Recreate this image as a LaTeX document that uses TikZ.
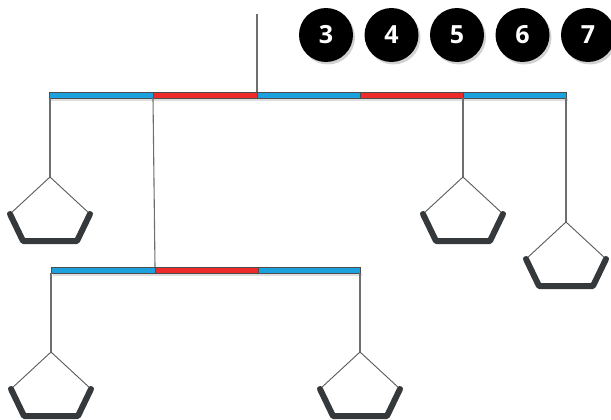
\documentclass[tikz,border=0pt]{standalone}
\usepackage{fontspec}
\setmainfont{Open Sans}
\definecolor{barblue}{HTML}{1BA1DD}
\definecolor{barred}{HTML}{EE2A2A}
\definecolor{panc}{HTML}{36393B}
\definecolor{strc}{HTML}{6E6E6E}
\begin{document}
\begin{tikzpicture}[x=1pt,y=-1pt,
  barseg/.style={draw=gray!60!black,line width=0.8pt},
  bshadow/.style={fill=gray!25,draw=none},
  stringl/.style={draw=strc,line width=1.1pt},
  thinside/.style={draw=gray!70!black,line width=0.9pt},
  thickside/.style={draw=panc,line width=6pt,line cap=round,line join=round},
  badge/.style={circle,fill=black,minimum size=54pt,inner sep=0pt,text=white,font=\bfseries\fontsize{25}{25}\selectfont},
  badgeshadow/.style={circle,fill=gray!35,minimum size=54pt,inner sep=0pt},
  pan/.pic={
    \draw[thinside] (-40,37) -- (0,0) -- (40,37);
    \draw[thickside] (-40,37) -- (-27,64) -- (27,64) -- (40,37);
  }]
\useasboundingbox (0,0) rectangle (611,420);
\clip (0,0) rectangle (611,420);
% badges
\foreach \n/\x in {3/326,4/391.5,5/457,6/522.5,7/588}{
  \node[badgeshadow] at (\x+2,35+2.5) {};
  \node[badge] (b\n) at (\x,35) {\n};
}
% top bar
\fill[bshadow] (51,98) rectangle (568,101);
\foreach \a/\b/\c in {49/153/barblue,153/257/barred,257/360/barblue,360/463/barred,463/566/barblue}{
  \draw[barseg,fill=\c] (\a,92) rectangle (\b,98);
}
% lower bar
\fill[bshadow] (53,273) rectangle (362,276);
\foreach \a/\b/\c in {51/155/barblue,155/258/barred,258/360/barblue}{
  \draw[barseg,fill=\c] (\a,267) rectangle (\b,273);
}
% coordinates
\coordinate (top) at (257,14);
\coordinate (t1) at (257,92);
\coordinate (h1) at (50,98);
\coordinate (h2) at (153,98);
\coordinate (h3) at (463,98);
\coordinate (h4) at (566,98);
\coordinate (l2) at (155,267);
\coordinate (g1) at (51,273);
\coordinate (g2) at (360,273);
\coordinate (p1) at (50,177);
\coordinate (p3) at (463,177);
\coordinate (p4) at (566,222);
\coordinate (q1) at (51,352);
\coordinate (q2) at (360,352);
% strings
\draw[stringl] (top) -- (t1);
\draw[stringl] (h2) -- (l2);
\draw[stringl] (h1) -- (p1);
\draw[stringl] (h3) -- (p3);
\draw[stringl] (h4) -- (p4);
\draw[stringl] (g1) -- (q1);
\draw[stringl] (g2) -- (q2);
% pans
\pic at (p1) {pan};
\pic at (p3) {pan};
\pic at (p4) {pan};
\pic at (q1) {pan};
\pic at (q2) {pan};
\end{tikzpicture}
\end{document}
